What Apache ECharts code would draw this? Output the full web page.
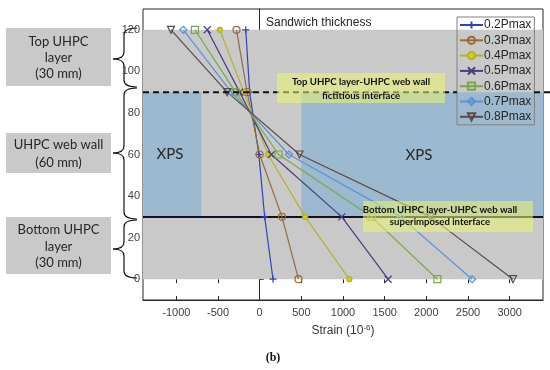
<!DOCTYPE html>
<html><head><meta charset="utf-8">
<script src="https://cdn.jsdelivr.net/npm/echarts@6/dist/echarts.min.js"></script>
<style>html,body{margin:0;padding:0;background:#fff}#c{width:550px;height:370px}</style>
</head><body><div id="c"></div><script>
// ---- data ----
const heights = [0, 30, 60, 90, 120];
const seriesNames = ['0.2Pmax', '0.3Pmax', '0.4Pmax', '0.5Pmax', '0.6Pmax', '0.7Pmax', '0.8Pmax'];
const strain02 = [160, 60, -10, -120, -167];
const strain03 = [466, 268, 0, -150, -278];
const strain04 = [1076, 546, 100, -190, -478];
const strain05 = [1542, 985, 140, -240, -629];
const strain06 = [2132, 1343, 227, -290, -777];
const strain07 = [2550, 1690, 351, -340, -916];
const strain08 = [3040, 2050, 478, -390, -1064];
const xTicks = [-1000, -500, 0, 500, 1000, 1500, 2000, 2500, 3000];
const yTicks = [0, 20, 40, 60, 80, 100, 120];
const xRange = [-1400, 3400];
const yRange = [-10, 130];
const sandwichHeights = [0, 120];
const xpsHeights = [30, 90];
const xpsLeftStrain = [-1400, -700];
const xpsRightStrain = [500, 3400];
const interfaceFictitious = 90;
const interfaceSuperimposed = 30;

const allStrains = [strain02, strain03, strain04, strain05, strain06, strain07, strain08];
const colors = ['#2d44b8', '#9a6a35', '#b5b02a', '#4a3c7e', '#7aa848', '#5b90dc', '#5a4a4a'];
const symbols = ['path://M-1,0L1,0M0,-1L0,1', 'circle', 'circle', 'path://M-1,-1L1,1M1,-1L-1,1', 'rect', 'diamond', 'triangle'];
const GRAY = '#c9c9c9', BLUE = '#9db9cf';

const chart = echarts.init(document.getElementById('c'));

const lineSeries = seriesNames.map((n, i) => ({
  name: n, type: 'line', z: 5,
  data: heights.map((h, k) => [allStrains[i][k], h]),
  symbol: symbols[i], symbolSize: i === 2 ? 5 : 7, symbolRotate: i === 6 ? 180 : 0,
  showAllSymbol: true,
  lineStyle: { color: colors[i], width: 1.2 },
  itemStyle: { color: i === 2 ? '#d6d200' : 'rgba(0,0,0,0)', borderColor: colors[i], borderWidth: 1.2 },
  emphasis: { disabled: true }, animation: false
}));

const bgSeries = {
  type: 'line', data: [], z: 1, silent: true, animation: false,
  markArea: {
    silent: true, animation: false,
    data: [
      [{ xAxis: xRange[0], yAxis: sandwichHeights[0], itemStyle: { color: GRAY } }, { xAxis: xRange[1], yAxis: sandwichHeights[1] }],
      [{ xAxis: xpsLeftStrain[0], yAxis: xpsHeights[0], itemStyle: { color: BLUE } }, { xAxis: xpsLeftStrain[1], yAxis: xpsHeights[1] }],
      [{ xAxis: xpsRightStrain[0], yAxis: xpsHeights[0], itemStyle: { color: BLUE } }, { xAxis: xpsRightStrain[1], yAxis: xpsHeights[1] }]
    ]
  },
  markLine: {
    silent: true, symbol: 'none', animation: false,
    label: { show: false },
    data: [{ yAxis: interfaceSuperimposed, lineStyle: { color: '#111122', width: 2, type: 'solid' } }]
  }
};

const axisColor = '#262626';
chart.setOption({
  animation: false,
  backgroundColor: '#fff',
  grid: { left: 143, right: 7, top: 9, bottom: 70, show: true, borderColor: axisColor, borderWidth: 1, backgroundColor: 'transparent' },
  xAxis: [{
    type: 'value', min: xRange[0], max: xRange[1], position: 'bottom',
    axisLine: { onZero: false, lineStyle: { color: axisColor } },
    axisTick: { inside: true, length: 4, customValues: xTicks, lineStyle: { color: axisColor } },
    axisLabel: { customValues: xTicks, formatter: v => String(v), color: '#404040', fontSize: 11, margin: 7, fontFamily: 'Liberation Sans' },
    splitLine: { show: false },
    name: 'Strain (10{sup|-6})', nameLocation: 'middle', nameGap: 24,
    nameTextStyle: { color: '#333', fontSize: 12, fontFamily: 'Liberation Sans',
      rich: { sup: { fontSize: 8, verticalAlign: 'top', padding: [0, 0, 6, 0], color: '#333', fontFamily: 'Liberation Sans' } } }
  }, {
    type: 'value', min: xRange[0], max: xRange[1], position: 'top',
    axisLine: { show: false },
    axisTick: { inside: true, length: 4, customValues: xTicks, lineStyle: { color: axisColor } },
    axisLabel: { show: false }, splitLine: { show: false }
  }],
  yAxis: [{
    type: 'value', min: yRange[0], max: yRange[1], position: 'left',
    axisLine: { onZero: true, onZeroAxisIndex: 0, lineStyle: { color: axisColor } },
    axisTick: { inside: true, length: 4, customValues: yTicks, lineStyle: { color: axisColor } },
    axisLabel: { customValues: yTicks, formatter: v => String(v), color: '#404040', fontSize: 11, margin: 3, fontFamily: 'Liberation Sans' },
    splitLine: { show: false }
  }],
  legend: {
    orient: 'vertical', left: 457, top: 17, padding: [2, 3, 2, 2],
    itemWidth: 23, itemHeight: 9, itemGap: 3.3,
    borderColor: '#808080', borderWidth: 1, backgroundColor: 'transparent',
    textStyle: { fontSize: 12, color: '#262626', fontFamily: 'Liberation Sans', padding: [0, 0, 0, -4] },
    data: seriesNames
  },
  series: [bgSeries].concat(lineSeries)
});

const yF = chart.convertToPixel({ yAxisIndex: 0 }, interfaceFictitious);

function brace(y0, ym, y1) {
  const tx = 113, sx = 124, ex = 137, r = 7;
  const st = { stroke: '#111', lineWidth: 1.2, fill: null };
  return [
    { type: 'bezierCurve', shape: { x1: ex, y1: y0, cpx1: sx, cpy1: y0, x2: sx, y2: y0 + r }, style: st },
    { type: 'line', shape: { x1: sx, y1: y0 + r, x2: sx, y2: ym - r }, style: st },
    { type: 'bezierCurve', shape: { x1: sx, y1: ym - r, cpx1: sx, cpy1: ym, x2: tx, y2: ym }, style: st },
    { type: 'bezierCurve', shape: { x1: tx, y1: ym, cpx1: sx, cpy1: ym, x2: sx, y2: ym + r }, style: st },
    { type: 'line', shape: { x1: sx, y1: ym + r, x2: sx, y2: y1 - r }, style: st },
    { type: 'bezierCurve', shape: { x1: sx, y1: y1 - r, cpx1: sx, cpy1: y1, x2: ex, y2: y1 }, style: st }
  ];
}
const calibri = 'Lato, "Open Sans", sans-serif';
function leftBox(y0, y1, lines, lineYs) {
  const els = [{ type: 'rect', shape: { x: 6, y: y0, width: 105, height: y1 - y0 }, style: { fill: GRAY } }];
  lines.forEach((t, i) => els.push({ type: 'text', x: 58.5, y: lineYs[i], style: { text: t, fill: '#262626', font: '13px ' + calibri, align: 'center', verticalAlign: 'middle' } }));
  return els;
}
const yellow = 'rgba(235,245,110,0.55)';
chart.setOption({
  graphic: [].concat(
    leftBox(28, 86, ['Top UHPC', 'layer', '(30 mm)'], [42, 58, 74]),
    leftBox(133, 173, ['UHPC web wall', '(60 mm)'], [145, 163]),
    leftBox(217, 274, ['Bottom UHPC', 'layer', '(30 mm)'], [230, 247, 263]),
    brace(28, 59, 87),
    brace(88, 153, 219),
    brace(220, 249, 278),
    [
      { type: 'line', shape: { x1: 143, y1: yF, x2: 457, y2: yF }, style: { stroke: '#111', lineWidth: 2, lineDash: [6, 4] }, z: 10 },
      { type: 'line', shape: { x1: 534, y1: yF, x2: 550, y2: yF }, style: { stroke: '#111', lineWidth: 2, lineDash: [6, 4] }, z: 10 },
      { type: 'text', x: 266, y: 23, z: 20, style: { text: 'Sandwich thickness', fill: '#262626', font: '12px "Liberation Sans"', verticalAlign: 'middle' } },
      { type: 'text', x: 170, y: 154, z: 20, style: { text: 'XPS', fill: '#262626', font: '15px ' + calibri, align: 'center', verticalAlign: 'middle' } },
      { type: 'text', x: 419, y: 155, z: 20, style: { text: 'XPS', fill: '#262626', font: '15px ' + calibri, align: 'center', verticalAlign: 'middle' } },
      { type: 'rect', shape: { x: 277, y: 73, width: 168, height: 30 }, style: { fill: yellow }, z: 20 },
      { type: 'text', x: 361, y: 82, z: 21, style: { text: 'Top UHPC layer-UHPC web wall', fill: '#111', font: 'bold 9.6px ' + calibri, align: 'center', verticalAlign: 'middle' } },
      { type: 'text', x: 361, y: 96, z: 21, style: { text: 'fictitious interface', fill: '#111', font: 'bold 9.6px ' + calibri, align: 'center', verticalAlign: 'middle' } },
      { type: 'rect', shape: { x: 363, y: 201, width: 170, height: 31 }, style: { fill: yellow }, z: 20 },
      { type: 'text', x: 440, y: 210, z: 21, style: { text: 'Bottom UHPC layer-UHPC web wall', fill: '#111', font: 'bold 9.6px ' + calibri, align: 'center', verticalAlign: 'middle' } },
      { type: 'text', x: 440, y: 222, z: 21, style: { text: 'superimposed interface', fill: '#111', font: 'bold 9.6px ' + calibri, align: 'center', verticalAlign: 'middle' } },
      { type: 'text', x: 273, y: 358, style: { text: '(b)', fill: '#111', font: 'bold 12px "Liberation Serif"', align: 'center', verticalAlign: 'middle' } }
    ]
  )
});
</script></body></html>
